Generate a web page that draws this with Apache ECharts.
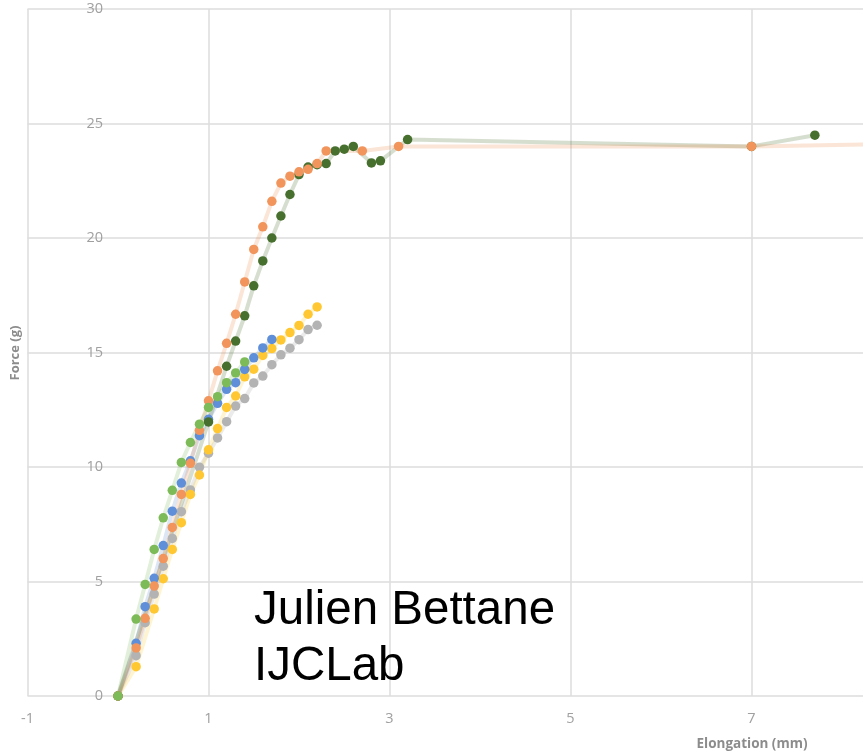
<!DOCTYPE html>
<html>
<head>
<meta charset="utf-8">
<script src="https://cdn.jsdelivr.net/npm/echarts@6/dist/echarts.min.js"></script>
<style>
html,body{margin:0;padding:0;background:#fff;}
#chart{width:863px;height:754px;}
</style>
</head>
<body>
<div id="chart"></div>
<script>
// Elongation (mm) vs Force (g), six samples
var seriesNames = ['Gris', 'Jaune', 'Bleu', 'Orange', 'Vert foncé', 'Vert clair'];
var grayData = [[0,0],[0.2,1.76],[0.3,3.2],[0.4,4.45],[0.5,5.67],[0.6,6.88],[0.7,8.05],[0.8,9.0],[0.9,9.99],[1.0,10.6],[1.1,11.27],[1.2,11.98],[1.3,12.66],[1.4,12.99],[1.5,13.67],[1.6,13.97],[1.7,14.47],[1.8,14.9],[1.9,15.19],[2.0,15.56],[2.1,16.0],[2.2,16.19]];
var yellowData = [[0,0],[0.2,1.28],[0.4,3.8],[0.5,5.12],[0.6,6.4],[0.7,7.57],[0.8,8.8],[0.9,9.65],[1.0,10.75],[1.1,11.68],[1.2,12.6],[1.3,13.1],[1.4,13.94],[1.5,14.27],[1.6,14.87],[1.7,15.17],[1.8,15.55],[1.9,15.87],[2.0,16.18],[2.1,16.67],[2.2,16.99]];
var blueData = [[0,0],[0.2,2.3],[0.3,3.9],[0.4,5.14],[0.5,6.57],[0.6,8.07],[0.7,9.3],[0.8,10.27],[0.9,11.37],[1.0,12.08],[1.1,12.78],[1.2,13.39],[1.3,13.68],[1.4,14.26],[1.5,14.77],[1.6,15.2],[1.7,15.57]];
var orangeData = [[0,0],[0.2,2.1],[0.3,3.39],[0.4,4.8],[0.5,6.0],[0.6,7.36],[0.7,8.8],[0.8,10.16],[0.9,11.6],[1.0,12.89],[1.1,14.2],[1.2,15.4],[1.3,16.67],[1.4,18.08],[1.5,19.5],[1.6,20.49],[1.7,21.6],[1.8,22.4],[1.9,22.7],[2.0,22.89],[2.1,23.0],[2.2,23.25],[2.3,23.8],[2.7,23.8],[3.1,24.0],[7.0,24.0],[9.0,24.13]];
var darkGreenData = [[0,0],[1.0,11.97],[1.2,14.4],[1.3,15.5],[1.4,16.6],[1.5,17.91],[1.6,19.0],[1.7,20.0],[1.8,20.96],[1.9,21.9],[2.0,22.77],[2.1,23.1],[2.2,23.2],[2.3,23.25],[2.4,23.8],[2.5,23.88],[2.6,24.0],[2.8,23.28],[2.9,23.37],[3.2,24.3],[7.0,24.0],[7.7,24.49]];
var lightGreenData = [[0,0],[0.2,3.36],[0.3,4.87],[0.4,6.4],[0.5,7.78],[0.6,8.98],[0.7,10.2],[0.8,11.07],[0.9,11.87],[1.0,12.6],[1.1,13.07],[1.2,13.68],[1.3,14.11],[1.4,14.59]];
var xTicks = [-1, 1, 3, 5, 7];
var yTicks = [0, 5, 10, 15, 20, 25, 30];
var xTitle = 'Elongation (mm)';
var yTitle = 'Force (g)';
var noteLines = ['Julien Bettane', 'IJCLab'];

var allData = [grayData, yellowData, blueData, darkGreenData, orangeData, lightGreenData];
var allNames = [seriesNames[0], seriesNames[1], seriesNames[2], seriesNames[4], seriesNames[3], seriesNames[5]];
var markerColors = ['#b3b3b3', '#ffc832', '#5f8fd9', '#47702e', '#f1955c', '#7dbb58'];
var lineColors = ['rgba(165,165,165,0.22)', 'rgba(255,192,0,0.18)', 'rgba(68,114,196,0.18)', 'rgba(67,104,43,0.22)', 'rgba(237,125,49,0.2)', 'rgba(112,173,71,0.2)'];

var series = [];
allData.forEach(function (d, i) {
  series.push({
    name: allNames[i], type: 'line', data: d, showSymbol: false, z: 2,
    lineStyle: {color: lineColors[i], width: 4}, silent: true, clip: true, animation: false
  });
});
allData.forEach(function (d, i) {
  series.push({
    name: allNames[i], type: 'scatter', data: d, symbol: 'circle', symbolSize: 9.5, z: 3,
    itemStyle: {color: markerColors[i], opacity: 1}, clip: true, animation: false
  });
});

var chart = echarts.init(document.getElementById('chart'));
chart.setOption({
  backgroundColor: '#ffffff',
  animation: false,
  grid: {left: 27.5, top: 9, right: -2, bottom: 58, containLabel: false, outerBoundsMode: 'none'},
  xAxis: {
    type: 'value', min: xTicks[0], max: 8.254, interval: 2,
    axisLine: {show: false, onZero: false},
    axisTick: {show: false},
    axisLabel: {color: '#a0a0a0', fontSize: 14.5, fontFamily: 'Open Sans', margin: 15, showMaxLabel: false,
      formatter: function (v) { return xTicks.indexOf(v) >= 0 ? String(v) : ''; }},
    splitLine: {show: true, lineStyle: {color: '#dcdcdc', width: 1.5}}
  },
  yAxis: {
    type: 'value', min: yTicks[0], max: yTicks[yTicks.length - 1], interval: 5,
    axisLine: {show: false, onZero: false},
    axisTick: {show: false},
    axisLabel: {color: '#a0a0a0', fontSize: 14.5, fontFamily: 'Open Sans', margin: -75.5, align: 'right'},
    splitLine: {show: true, lineStyle: {color: '#dcdcdc', width: 1.5}}
  },
  graphic: [
    {type: 'text', x: 752, y: 744, style: {text: xTitle, fill: '#8c8c8c', font: 'bold 13.5px "Open Sans"', textAlign: 'center', textVerticalAlign: 'middle'}},
    {type: 'text', x: 15, y: 353, rotation: Math.PI / 2, style: {text: yTitle, fill: '#8c8c8c', font: 'bold 13px "Open Sans"', textAlign: 'center', textVerticalAlign: 'middle'}},
    {type: 'text', x: 254, y: 611, z: 10, style: {text: noteLines[0], fill: '#000000', font: '47.5px "Liberation Sans"', textAlign: 'left', textVerticalAlign: 'middle'}},
    {type: 'text', x: 254, y: 667, z: 10, style: {text: noteLines[1], fill: '#000000', font: '47.5px "Liberation Sans"', textAlign: 'left', textVerticalAlign: 'middle'}}
  ],
  series: series
});
</script>
</body>
</html>
